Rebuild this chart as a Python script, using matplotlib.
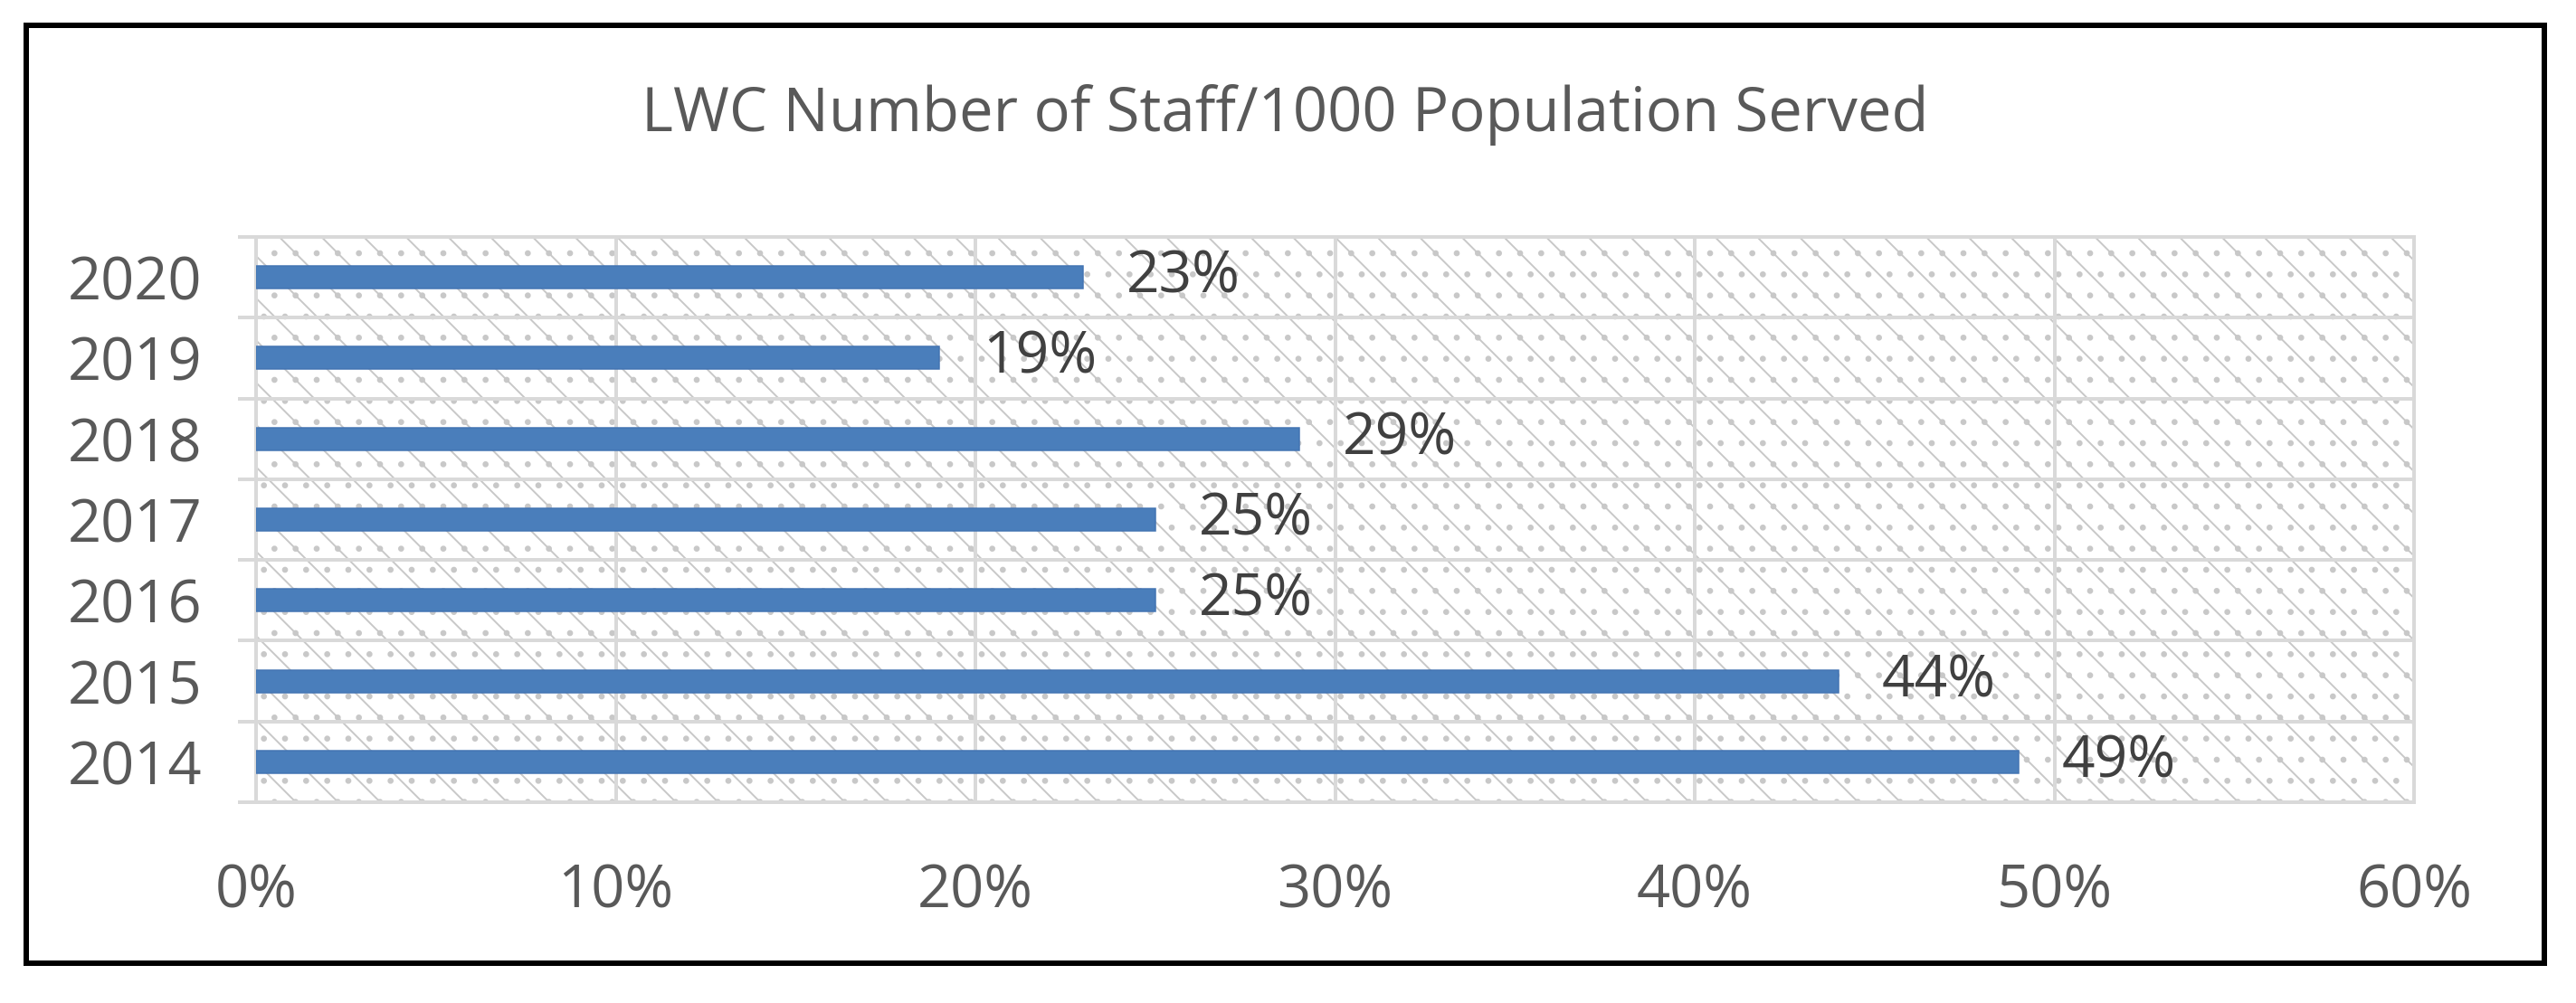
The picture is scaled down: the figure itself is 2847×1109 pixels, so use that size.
import matplotlib
matplotlib.use("Agg")
import matplotlib.pyplot as plt
from matplotlib.patches import Rectangle
import numpy as np

# data (bottom to top)
years = ["2014", "2015", "2016", "2017", "2018", "2019", "2020"]
staff_pct = [49, 44, 25, 25, 29, 19, 23]
x_ticks = [0, 10, 20, 30, 40, 50, 60]
title = "LWC Number of Staff/1000 Population Served"

DPI = 140
W, H = 2847, 1109


def px(p):
    # pixels -> points at our dpi
    return p * 72.0 / DPI


plt.rcParams["font.family"] = ["Open Sans", "DejaVu Sans"]
plt.rcParams["hatch.linewidth"] = 1.0

grid_col = "#d9d9d9"
text_col = "#595959"
bar_col = "#4a7ebb"

fig = plt.figure(figsize=(W / DPI, H / DPI), dpi=DPI)
fig.patch.set_facecolor("white")

ax = fig.add_axes([283 / W, 1 - 887 / H, (2668 - 283) / W, (887 - 262) / H])

# hatched plot area
ax.patch.set_facecolor("white")
ax.patch.set_edgecolor("#c8c8c8")
ax.patch.set_linewidth(0)
ax.patch.set_hatch("\\.")

ypos = np.arange(len(years))
ax.barh(ypos, staff_pct, height=0.28, color=bar_col, edgecolor="#4374b3",
        linewidth=px(1.5), zorder=3)

for y, v in zip(ypos, staff_pct):
    ax.text(v + 48 / ((2668 - 283) / 60), y, f"{v}%", va="center", ha="left",
            fontsize=px(64), color="#404040", zorder=4)

ax.set_xlim(0, 60)
ax.set_ylim(-0.5, len(years) - 0.5)

ax.set_xticks(x_ticks)
ax.set_xticklabels([f"{t}%" for t in x_ticks])
ax.set_yticks(ypos)
ax.set_yticklabels(years)
ax.set_yticks(np.arange(len(years) + 1) - 0.5, minor=True)

ax.tick_params(axis="x", which="both", length=0, pad=px(66),
               labelsize=px(65), labelcolor=text_col)
ax.tick_params(axis="y", which="major", length=0, pad=px(60),
               labelsize=px(65), labelcolor=text_col)
ax.tick_params(axis="y", which="minor", length=px(20), width=px(4),
               color=grid_col, direction="out")

ax.xaxis.grid(True, which="major", color=grid_col, linewidth=px(4), zorder=1)
ax.yaxis.grid(True, which="minor", color=grid_col, linewidth=px(4), zorder=1)
ax.yaxis.grid(False, which="major")
ax.set_axisbelow(True)

for s in ax.spines.values():
    s.set_color(grid_col)
    s.set_linewidth(px(4))

fig.text(1420 / W, 1 - 127 / H, title, ha="center", va="center",
         fontsize=px(67), color=text_col)

# outer black frame
fig.patches.append(Rectangle((29 / W, 1 - 1065 / H), (2812 - 29) / W, (1065 - 28) / H,
                             transform=fig.transFigure, fill=False,
                             edgecolor="black", linewidth=px(6)))

fig.savefig("out.png", dpi=DPI, facecolor="white")
